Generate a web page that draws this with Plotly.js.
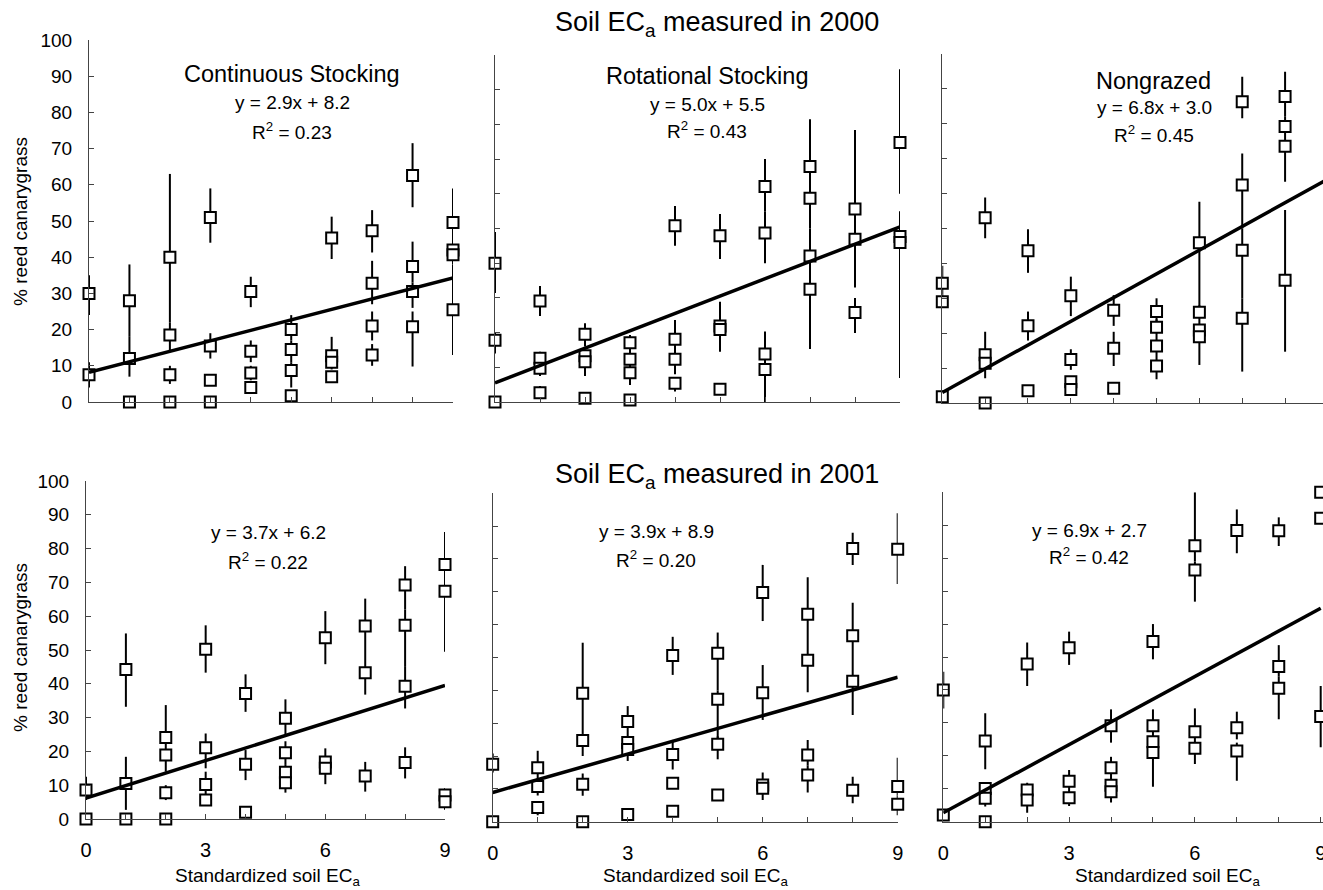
<!DOCTYPE html>
<html>
<head>
<meta charset="utf-8">
<script src="https://cdn.plot.ly/plotly-3.0.1.min.js"></script>
<style>
  html, body { margin: 0; padding: 0; background: #fff; }
  #chart { width: 1323px; height: 890px; }
</style>
</head>
<body>
<div id="chart"></div>
<script>
// ---------- DATA ----------
// Top-left: Continuous Stocking, soil ECa 2000
const tlX  = [0,0, 1,1,1, 2,2,2,2, 3,3,3,3, 4,4,4,4, 5,5,5,5, 6,6,6,6, 7,7,7,7, 8,8,8,8, 9,9,9,9];
const tlY  = [30,7.5, 28,12,0, 40,18.5,7.5,0, 51,15.5,6,0, 30.5,14,8,4, 20,14.5,8.7,1.7, 45.3,12.8,11,7, 47.3,32.8,21,13, 62.6,37.4,30.5,20.8, 49.6,42,40.7,25.5];
const tlHi = [35,11, 38,18,0, 63,22,10,0, 59,19,6,0, 34.6,17,10,5, 24,17,11,1.7, 51.2,18,12,7, 53,39,25,16, 71.5,44.3,33,25, 59,45,42,38];
const tlLo = [24,4, 18,7,0, 22,14,5,0, 44,12,6,0, 26.2,11,6,4, 17,11,4,1.7, 39.5,11,9,7, 41.3,27,17,10, 53.8,33,26,9.8, 45,41,38,13];

// Top-middle: Rotational Stocking, 2000
const tmX  = [0,0,0, 1,1,1,1, 2,2,2,2, 3,3,3,3, 4,4,4,4, 5,5,5,5, 6,6,6,6, 7,7,7,7, 8,8,8, 9,9,9];
const tmY  = [40,17.8,0, 29.1,12.6,9.7,2.7, 19.5,13.3,11.6,1.1, 17.1,12.3,8.4,0.6, 50.8,18.1,12.3,5.4, 47.9,21.9,20.9,3.7, 62.1,48.7,13.8,9.4, 67.9,58.7,42.1,32.5, 55.6,46.9,25.8, 74.8,47.7,46];
const tmHi = [49,20,0, 33.4,14.5,11,4.6, 22.7,15,12,1.1, 19.3,14,10,0.6, 56.5,23.6,14,7, 54.2,28.9,21,3.7, 70,55,20.3,11, 81.5,63,50,36, 78.4,52,30, 95.9,55,46];
const tmLo = [31.4,14,0, 24.8,10,7.5,2.7, 16,11,7.5,1.1, 14,10,4.9,0.6, 45,14,8,3, 41.2,20,14.5,3.7, 55,40,11,0, 62,50,35,15.3, 50,33,19.9, 60,46,6.9];

// Top-right: Nongrazed, 2000
const trX  = [0,0,0, 1,1,1,1, 2,2,2, 3,3,3,3, 4,4,4, 5,5,5,5, 6,6,6,6, 7,7,7,7, 8,8,8,8, 9,9];
const trY  = [34.3,29,1.8, 53.1,13.8,11.4,0, 43.6,22.1,3.5, 30.7,12.5,6.1,3.9, 26.6,15.7,4.2, 26.2,21.7,16.3,10.6, 45.9,26,20.9,19, 86.3,62.5,43.8,24.3, 87.8,79.2,73.6,35.2, 99,86];
const trHi = [39.3,31,1.8, 58.9,20.4,12,0, 49.8,26.2,3.5, 36.2,15.4,6.5,3.9, 30.9,20.4,4.2, 30,24,18,11, 57.7,28,21,19, 93.5,71.5,50,30, 94.9,82,75,55.3, 99,86];
const trLo = [31,29,1.8, 47.2,12,7.1,0, 37.3,17.9,3.5, 24.9,9.5,4,3.9, 22.1,10.6,4.2, 22,17,12,6.8, 27,22,19,10.9, 81.6,50,30,9, 82,75,63.4,14.7, 99,86];

// Bottom-left: Continuous Stocking, soil ECa 2001
const blX  = [0,0, 1,1,1, 2,2,2,2, 3,3,3,3, 4,4,4, 5,5,5,5, 6,6,6, 7,7,7, 8,8,8,8, 9,9,9,9];
const blY  = [8.6,0, 44.2,10.5,0, 24.1,18.9,7.8,0, 50.2,21.1,10.2,5.6, 37.1,16.2,2, 29.8,19.6,13.8,10.7, 53.6,16.9,15, 57.1,43.3,12.7, 69.2,57.3,39.3,16.7, 75.3,67.4,7.1,5.1];
const blHi = [12.5,0, 54.9,18.4,0, 33.7,21,10,0, 57.3,25.3,14,5.6, 42.8,20.4,2, 35.4,23,16,11, 61.5,20.9,15, 65.2,50,16.9, 74.8,62,45,21.2, 84.9,71,9.1,5.1];
const blLo = [5.6,0, 33.2,2.7,0, 21,14,5.6,0, 43.3,15,7,5.6, 31.7,11.5,2, 25,16,11,7.8, 45.8,15,10.3, 50,36.8,8.1, 62,45,32.7,12, 71,49.5,5,2.7];

// Bottom-middle: Rotational Stocking, 2001
const bmX  = [0,0, 1,1,1, 2,2,2,2, 3,3,3,3, 4,4,4,4, 5,5,5,5, 6,6,6,6, 7,7,7,7, 8,8,8,8, 9,9,9];
const bmY  = [17.5,0, 16.4,10.7,4.3, 39.1,24.7,11.4,0, 30.5,24.1,22,2.2, 50.6,20.5,11.7,3.2, 51.3,37.3,23.6,8.1, 69.8,39.3,11.2,10.2, 63.2,49.2,20.3,14.2, 83.2,56.6,42.8,9.6, 83,10.7,5.3];
const bmHi = [20.8,0, 21.6,13,4.3, 54.5,27,14.7,0, 35.2,26,22,2.2, 56.3,24.9,11.7,3.2, 57.6,40,26,8.1, 78.2,47.7,15,10.2, 74.4,52,24.9,17, 88,66.7,45,13.7, 93.9,19.5,8];
const bmLo = [15,0, 13,8,2, 27,20,7.9,0, 26,22,18.5,1, 44.7,15.9,11.7,3.2, 40,25,19,8.1, 61.1,31,10.2,6.6, 52,39.4,17,8.9, 78.2,45,32.5,5.6, 72.4,8,2];

// Bottom-right: Nongrazed, 2001
const brX  = [0,0, 1,1,1,1, 2,2,2, 3,3,3, 4,4,4,4, 5,5,5,5, 6,6,6,6, 7,7,7, 8,8,8, 9,9,9];
const brY  = [40,2, 24.5,10.1,7.1,0, 47.9,9.6,6.6, 52.8,12.3,7.3, 29.1,16.4,11.1,9.1, 54.7,29.1,24.3,21, 83.8,76.4,27.3,22.3, 88.4,28.5,21.5, 88.3,47.1,40.5, 100,92.1,31.9];
const brHi = [45.5,2, 32.9,12,8,0, 54.4,11.8,8, 57.7,15.7,9, 34.1,19.7,13,9.1, 60,34.1,26,22, 100,79,34.4,24, 94.8,33.4,24, 92.4,53.6,44, 100,92.1,41.2];
const brLo = [34.4,2, 15.9,8,4.6,0, 41.2,8,2.7, 47.6,9,4.8, 24,13,9,5.8, 49.3,26,22,10.6, 79,66.8,24,17.5, 81.5,25,12.4, 83.7,44,31.1, 100,92.1,22.6];

// Regression fits (panel order: TL, TM, TR, BL, BM, BR)
const slopes     = [2.9, 5.0, 6.8, 3.7, 3.9, 6.9];
const intercepts = [8.2, 5.5, 3.0, 6.2, 8.9, 2.7];
const r2Values   = ['0.23', '0.43', '0.45', '0.22', '0.20', '0.42'];

const treatmentNames = ['Continuous Stocking', 'Rotational Stocking', 'Nongrazed'];
const yearTitles = ['Soil EC<sub>a</sub> measured in 2000', 'Soil EC<sub>a</sub> measured in 2001'];
const xMajorTicks = [0, 3, 6, 9];
const xMinorTicks = [0, 1, 2, 3, 4, 5, 6, 7, 8, 9];
const yTickVals  = [0, 10, 20, 30, 40, 50, 60, 70, 80, 90, 100];
const xAxisTitle = 'Standardized soil EC<sub>a</sub>';
const yAxisTitle = '% reed canarygrass';

// ---------- LAYOUT GEOMETRY ----------
const W = 1323, H = 890;
const FONT = 'Liberation Sans, Arial, Helvetica, sans-serif';
const panelsGeom = [
  {x0: 89,    x1: 453,   xmax: 9,     y0: 402,   y1: 40},
  {x0: 495,   x1: 900,   xmax: 9,     y0: 402,   y1: 55},
  {x0: 942.3, x1: 1323,  xmax: 8.885, y0: 403,   y1: 54},
  {x0: 86,    x1: 445,   xmax: 9,     y0: 819,   y1: 481},
  {x0: 492.7, x1: 897.7, xmax: 9,     y0: 821.7, y1: 493.3},
  {x0: 943.3, x1: 1323,  xmax: 9.055, y0: 821.7, y1: 492.3}
];

const panelData = [
  [tlX, tlY, tlHi, tlLo], [tmX, tmY, tmHi, tmLo], [trX, trY, trHi, trLo],
  [blX, blY, blHi, blLo], [bmX, bmY, bmHi, bmLo], [brX, brY, brHi, brLo]
];

const traces = [];
const layout = {
  width: W, height: H,
  margin: {l: 0, r: 0, t: 0, b: 0},
  paper_bgcolor: '#fff', plot_bgcolor: 'rgba(0,0,0,0)',
  showlegend: false,
  font: {family: FONT, color: '#000', size: 19},
  annotations: []
};

panelData.forEach((d, i) => {
  const n = i + 1;
  const xa = n === 1 ? 'x' : 'x' + n;
  const ya = n === 1 ? 'y' : 'y' + n;
  const [xs, ys, hi, lo] = d;
  traces.push({
    type: 'scatter', mode: 'markers', xaxis: xa, yaxis: ya,
    x: xs, y: ys, cliponaxis: false,
    marker: {symbol: 'square', size: 11, color: '#fff', line: {color: '#000', width: 2}},
    error_y: {
      type: 'data', symmetric: false,
      array: ys.map((v, k) => Math.max(0, hi[k] - v)),
      arrayminus: ys.map((v, k) => Math.max(0, v - lo[k])),
      color: '#000', thickness: 2, width: 0
    },
    hoverinfo: 'skip'
  });
  traces.push({
    type: 'scatter', mode: 'lines', xaxis: xa, yaxis: ya,
    x: [0, 9], y: [intercepts[i], slopes[i] * 9 + intercepts[i]],
    line: {color: '#000', width: 3.5}, hoverinfo: 'skip'
  });

  const g = panelsGeom[i];
  const isBottom = i >= 3;
  const isLeft = i % 3 === 0;
  layout['xaxis' + (n === 1 ? '' : n)] = {
    domain: [g.x0 / W, g.x1 / W], range: [0, g.xmax], anchor: ya,
    showline: true, linecolor: '#444', linewidth: 1,
    ticks: 'inside', ticklen: 5, tickcolor: '#444', tickwidth: 1,
    tickmode: 'array', tickvals: xMajorTicks,
    minor: {tickmode: 'array', tickvals: xMinorTicks, ticks: 'inside', ticklen: 5, tickcolor: '#444', tickwidth: 1, showgrid: false},
    showticklabels: isBottom, ticklabelstandoff: 13, ticklabeloverflow: 'allow',
    tickfont: {family: FONT, size: 20, color: '#000'},
    showgrid: false, zeroline: false, fixedrange: true
  };
  layout['yaxis' + (n === 1 ? '' : n)] = {
    domain: [(H - g.y0) / H, (H - g.y1) / H], range: [0, 100], anchor: xa,
    showline: true, linecolor: '#444', linewidth: 1,
    ticks: 'inside', ticklen: 5, tickcolor: '#444', tickwidth: 1,
    tickmode: 'array', tickvals: yTickVals, showticklabels: isLeft, ticklabelstandoff: 12,
    tickfont: {family: FONT, size: 19, color: '#000'},
    showgrid: false, zeroline: false, fixedrange: true
  };
});

function ann(text, xpx, ypx, size, extra) {
  return Object.assign({
    text: text, xref: 'paper', yref: 'paper',
    x: xpx / W, y: (H - ypx) / H, xanchor: 'center', yanchor: 'middle',
    showarrow: false, font: {family: FONT, size: size, color: '#000'}
  }, extra || {});
}

// Year titles
layout.annotations.push(ann(yearTitles[0], 717, 24, 27));
layout.annotations.push(ann(yearTitles[1], 717, 476, 27));

// Treatment names (top row)
const nameCenters = [[292, 74], [707, 76], [1153, 81]];
treatmentNames.forEach((t, i) => layout.annotations.push(ann(t, nameCenters[i][0], nameCenters[i][1], 23.5)));

// Equations and R^2
const eqPos = [
  [292, 103, 131], [707, 104, 130], [1154, 108, 134],
  [268, 533, 561], [656, 531, 559], [1089, 530, 556]
];
eqPos.forEach((p, i) => {
  const eq = 'y = ' + slopes[i].toFixed(1) + 'x + ' + intercepts[i].toFixed(1);
  layout.annotations.push(ann(eq, p[0], p[1], 19));
  layout.annotations.push(ann('R<sup>2</sup> = ' + r2Values[i], p[0], p[2], 19));
});

// Axis titles
[[267, 877], [696, 877], [1167, 877]].forEach(p => layout.annotations.push(ann(xAxisTitle, p[0], p[1], 19)));
[[20, 222], [20, 648]].forEach(p => layout.annotations.push(ann(yAxisTitle, p[0], p[1], 19, {textangle: -90})));

Plotly.newPlot('chart', traces, layout, {displayModeBar: false, staticPlot: true});
</script>
</body>
</html>
